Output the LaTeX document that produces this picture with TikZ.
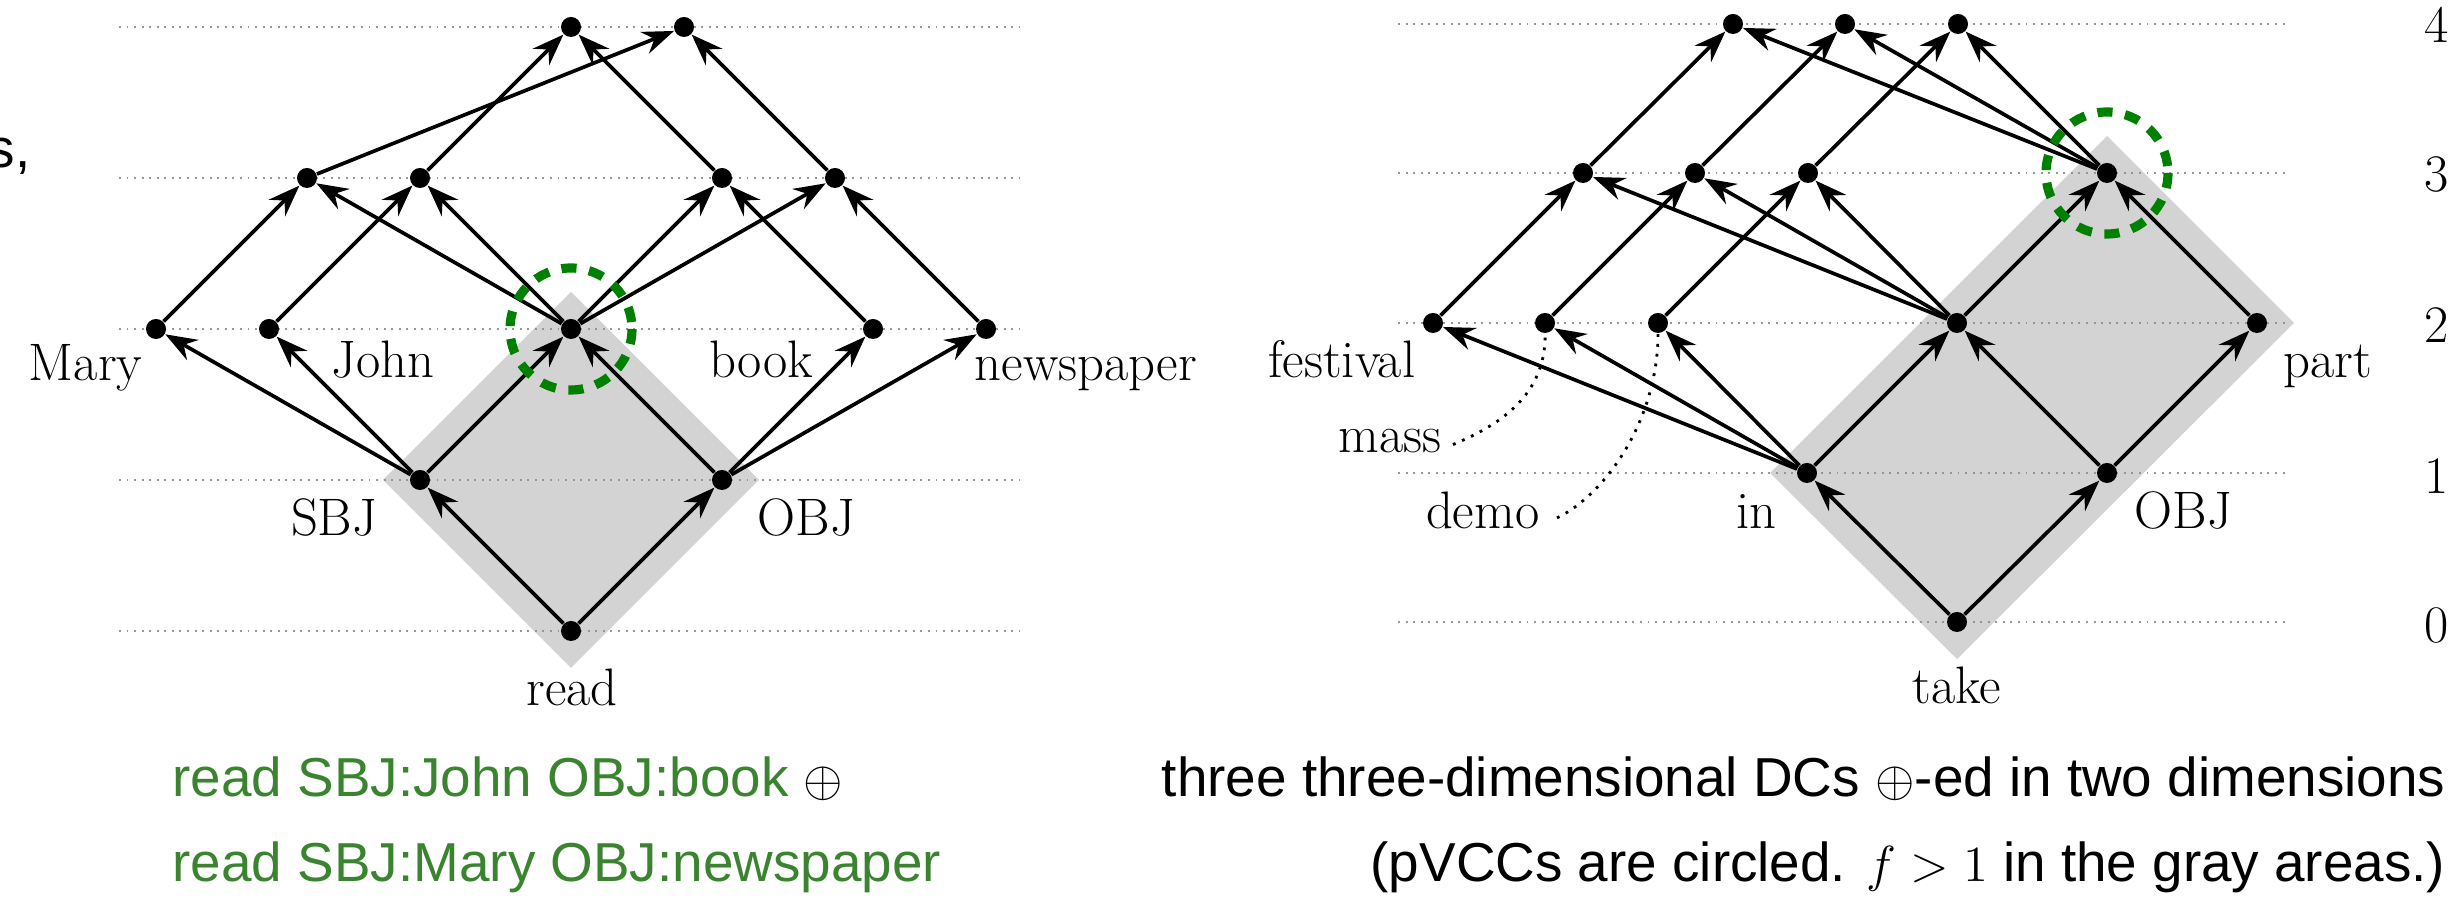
\documentclass[tikz,border=0pt]{standalone}
\usepackage{fontspec}
\newfontfamily\sansf{Liberation Sans}
\usetikzlibrary{arrows.meta,calc}
\definecolor{diamondgray}{RGB}{211,211,211}
\definecolor{levelgray}{RGB}{150,150,150}
\definecolor{pvccgreen}{RGB}{0,128,0}
\definecolor{textgreen}{RGB}{58,132,48}

\begin{document}
\begin{tikzpicture}[x=0.01cm,y=-0.01cm,
  dot/.style={circle,fill=black,inner sep=0pt,minimum size=0.2cm},
  arr/.style={line width=1.05pt,-{Stealth[length=9pt,width=6.6pt,inset=3pt]}},
  lvl/.style={levelgray,line width=0.55pt,dash pattern=on 0.55pt off 1.6pt},
  lbl/.style={inner sep=0pt,font=\fontsize{15}{17}\selectfont},
  leader/.style={line width=0.8pt,dash pattern=on 0.8pt off 2pt},
  pvcc/.style={pvccgreen,line width=2.6pt,dash pattern=on 4.3pt off 3.6pt},
  caption/.style={inner sep=0pt,font=\sansf\fontsize{15.6}{18}\selectfont},
]
\useasboundingbox (0,0) rectangle (2459,898);

% shaded regions where f > 1
\fill[diamondgray] (571,668) -- (383,480) -- (571,292) -- (759,480) -- cycle;
\fill[diamondgray] (1957,659) -- (1770,473) -- (2107,136) -- (2294,323) -- cycle;

% level rules
\foreach \y in {27,178,329,480,631} \draw[lvl] (119,\y) -- (1020,\y);
\foreach \y in {24,173,323,473,622} \draw[lvl] (1398,\y) -- (2290,\y);

% ---- left lattice: read ----
\node[dot] (read) at (571,631) {};
\node[dot] (lSBJ) at (420,480) {};
\node[dot] (lOBJ) at (722,480) {};
\node[dot] (mary) at (156,329) {};
\node[dot] (john) at (269,329) {};
\node[dot] (lc)   at (571,329) {};
\node[dot] (book) at (873,329) {};
\node[dot] (news) at (986,329) {};
\node[dot] (la3)  at (307,178) {};
\node[dot] (lb3)  at (420,178) {};
\node[dot] (lc3)  at (722,178) {};
\node[dot] (ld3)  at (835,178) {};
\node[dot] (la4)  at (571,27) {};
\node[dot] (lb4)  at (684,27) {};

\foreach \a/\b in {read/lSBJ, read/lOBJ, lSBJ/mary, lSBJ/john, lSBJ/lc,
  lOBJ/lc, lOBJ/book, lOBJ/news, mary/la3, john/lb3, lc/la3, lc/lb3,
  lc/lc3, lc/ld3, book/lc3, news/ld3, la3/lb4, lb3/la4, lc3/la4, ld3/lb4}
  \draw[arr] (\a) -- (\b);

\node[lbl,anchor=base east] (maryl) at (143,381) {Mary};
\node[lbl,anchor=base west] (johnl) at (331,378) {John};
\node[lbl,anchor=base east] (bookl) at (814,378) {book};
\node[lbl,anchor=base west] (newsl) at (974,381) {newspaper};
\node[lbl,anchor=base east] (lSBJl) at (378,536) {SBJ};
\node[lbl,anchor=base west] (lOBJl) at (757,536) {OBJ};
\node[lbl,anchor=base] (readl) at (572,706) {read};

% ---- right lattice: take ----
\node[dot] (take) at (1957,622) {};
\node[dot] (in)   at (1807,473) {};
\node[dot] (rOBJ) at (2107,473) {};
\node[dot] (fest) at (1433,323) {};
\node[dot] (mass) at (1545,323) {};
\node[dot] (demo) at (1658,323) {};
\node[dot] (rc)   at (1957,323) {};
\node[dot] (part) at (2257,323) {};
\node[dot] (ra3)  at (1583,173) {};
\node[dot] (rb3)  at (1695,173) {};
\node[dot] (rc3)  at (1808,173) {};
\node[dot] (rd3)  at (2107,173) {};
\node[dot] (ra4)  at (1733,24) {};
\node[dot] (rb4)  at (1845,24) {};
\node[dot] (rc4)  at (1958,24) {};

\foreach \a/\b in {take/in, take/rOBJ, in/fest, in/mass, in/demo, in/rc,
  rOBJ/rc, rOBJ/part, fest/ra3, mass/rb3, demo/rc3, rc/ra3, rc/rb3,
  rc/rc3, rc/rd3, part/rd3, ra3/ra4, rb3/rb4, rc3/rc4, rd3/ra4,
  rd3/rb4, rd3/rc4}
  \draw[arr] (\a) -- (\b);

\node[lbl,anchor=base east] (festl) at (1416,378) {festival};
\node[lbl,anchor=base east] (massl) at (1442,453) {mass};
\node[lbl,anchor=base east] (demol) at (1540,529) {demo};
\node[lbl,anchor=base east] (inl)   at (1777,529) {in};
\node[lbl,anchor=base west] (rOBJl) at (2134,529) {OBJ};
\node[lbl,anchor=base west] (partl) at (2283,378) {part};
\node[lbl,anchor=base] (takel) at (1957,704) {take};

\draw[leader] ($(massl.east)+(11,3)$) .. controls (1500,425) and (1546,395) .. (mass);
\draw[leader] ($(demol.east)+(17,7)$) .. controls (1605,495) and (1658,420) .. (demo);

% level numbers
\node[lbl] (n4) at (2437,25) {4};
\node[lbl] (n3) at (2437,175) {3};
\node[lbl] (n2) at (2437,325) {2};
\node[lbl] (n1) at (2437,476) {1};
\node[lbl] (n0) at (2437,625) {0};

% circled pVCCs
\draw[pvcc] (lc) circle[radius=61];
\draw[pvcc] (rd3) circle[radius=61];

% captions
\node[caption,anchor=base east] (cut) at (31,168) {s,};
\node[caption,textgreen,anchor=base west] (capL1) at (172,797) {read SBJ:John OBJ:book \textcolor{black}{$\oplus$}};
\node[caption,textgreen,anchor=base west] (capL2) at (172,882) {read SBJ:Mary OBJ:newspaper};
\node[caption,anchor=base east] (capR1) at (2446,797) {three three-dimensional DCs $\oplus$-ed in two dimensions};
\node[caption,anchor=base east] (capR2) at (2446,882) {(pVCCs are circled. $f>1$ in the gray areas.)};
\end{tikzpicture}
\end{document}
